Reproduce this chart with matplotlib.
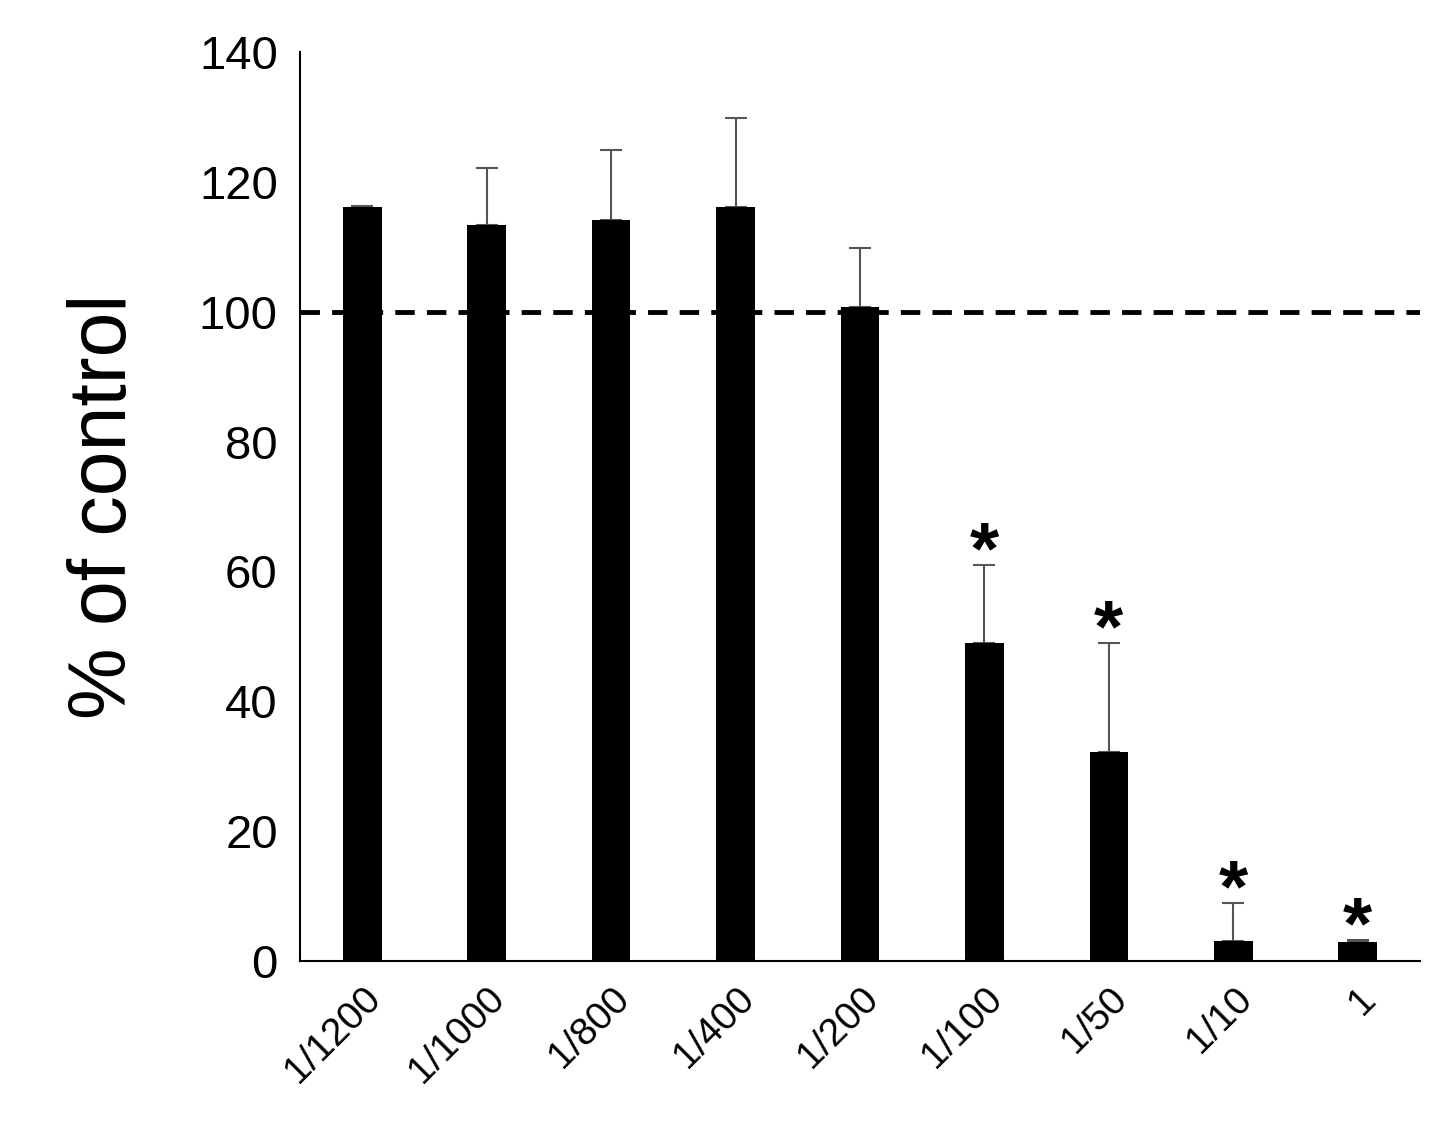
import numpy as np
import matplotlib.pyplot as plt

plt.rcParams['font.family'] = ['Liberation Sans', 'DejaVu Sans']

labels = ['1/1200', '1/1000', '1/800', '1/400', '1/200', '1/100', '1/50', '1/10', '1']
values = [116.1, 113.4, 114.1, 116.1, 100.7, 49.0, 32.2, 3.1, 2.9]
errors = [0.2, 8.7, 10.8, 13.7, 9.1, 12.0, 16.8, 5.8, 0.3]
significant = [False, False, False, False, False, True, True, True, True]

fig = plt.figure(figsize=(14.37, 11.45), dpi=100)
ax = fig.add_axes([300 / 1437, 1 - 961 / 1145, 1120 / 1437, 909 / 1145])

x = np.arange(len(labels))
ax.bar(x, values, width=0.31, color='black', zorder=3)
ax.errorbar(x, values, yerr=[np.zeros(len(errors)), errors], fmt='none',
            ecolor='#555555', elinewidth=1.5, capsize=8, capthick=1.5, zorder=2)
ax.axhline(100, color='black', linestyle=(0, (4, 2.5)), linewidth=3.5, zorder=4)

for xi, v, e, s in zip(x, values, errors, significant):
    if s:
        ax.annotate('*', (xi, v + e), xytext=(0, -17), textcoords='offset points',
                    ha='center', va='bottom', fontsize=54, fontweight='bold')

ax.set_xlim(-0.5, 8.5)
ax.set_ylim(0, 140)
ax.set_yticks(range(0, 141, 20))
ax.set_xticks(x)
ax.set_xticklabels(labels, rotation=45, ha='right', rotation_mode='anchor', fontsize=28)
ax.tick_params(axis='y', length=0, labelsize=34, pad=16)
ax.tick_params(axis='x', length=0, pad=14)
ax.spines['top'].set_visible(False)
ax.spines['right'].set_visible(False)
for sp in ('left', 'bottom'):
    ax.spines[sp].set_linewidth(1.5)
ax.set_ylabel('% of control', fontsize=58, labelpad=40)

fig.savefig('out.png', dpi=100)
